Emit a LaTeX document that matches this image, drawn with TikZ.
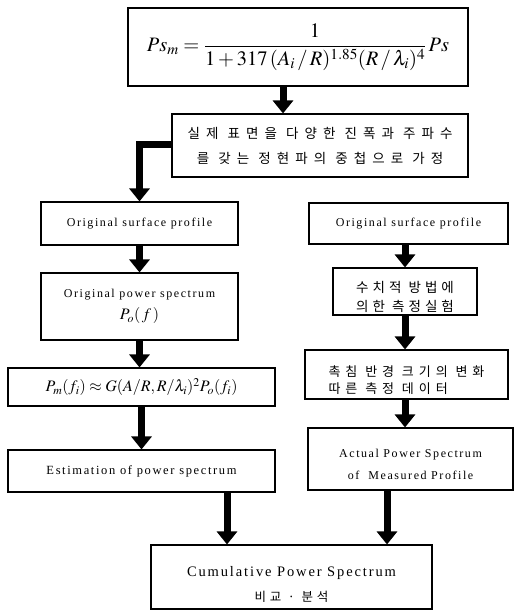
\documentclass[tikz,border=0pt]{standalone}
\usepackage{amsmath}
\usepackage{mathptmx}
\usepackage{fontspec}
\usetikzlibrary{arrows.meta}
\setmainfont{Liberation Serif}
\newfontfamily\eng{Liberation Serif}[LetterSpace=13]
\newfontfamily\korA{Noto Sans CJK KR}[LetterSpace=45]
\newfontfamily\korB{Noto Sans CJK KR}[LetterSpace=30]
\newfontfamily\korC{Noto Sans CJK KR}[LetterSpace=38]
\newcommand\liftline[1]{\rule{0pt}{#1}}
\tikzset{
  box/.style={draw, line width=1.1pt, inner sep=0pt, align=center},
  arr/.style={line width=7pt, -{Triangle[width=20pt,length=13pt]}},
  engtxt/.style={font=\eng\fontsize{12}{22}\selectfont},
}
\begin{document}
\begin{tikzpicture}[x=1pt,y=-1pt]
\useasboundingbox (0,0) rectangle (516,612);
\node[box, minimum width=340pt, minimum height=78pt] (top) at (298,47)
  {\fontsize{20.5}{24}\selectfont $Ps_m=\dfrac{1}{1+317\,(A_i\,/\,R)^{1.85}(R\,/\,\lambda_i)^4}\,Ps$};
\node[box, minimum width=296pt, minimum height=63pt, font=\korA\fontsize{13.5}{25}\selectfont] (kor) at (320,145.5)
  {실제 표면을 다양한 진폭과 주파수\\를 갖는 정현파의 중첩으로 가정};
\node[box, engtxt, minimum width=197pt, minimum height=43pt] (l1) at (139.5,223.5)
  {Original surface profile};
\node[box, engtxt, minimum width=197pt, minimum height=67pt] (l2) at (139.5,306.5)
  {Original power spectrum\\{\fontsize{16}{18}\selectfont $P_o(\,f\,)$}};
\node[box, minimum width=267pt, minimum height=38pt] (l3) at (141.5,387)
  {\fontsize{16}{19}\selectfont $P_m(f_i)\approx G(A/R,R/\lambda_i)^2P_o(f_i)$};
\node[box, font=\eng\fontsize{12.5}{15}\selectfont, minimum width=267pt, minimum height=42pt] (l4) at (141.5,471)
  {Estimation of power spectrum};
\node[box, engtxt, minimum width=199pt, minimum height=41pt] (r1) at (408.5,223.5)
  {Original surface profile};
\node[box, minimum width=144pt, minimum height=47pt, font=\korB\fontsize{13.5}{19}\selectfont] (r2) at (405,291.5)
  {\liftline{22pt}수치적 방법에\\의한 측정실험};
\node[box, minimum width=203pt, minimum height=49pt, align=left, font=\korC\fontsize{13}{17}\selectfont] (r3) at (406.5,374.5)
  {\liftline{22pt}촉침 반경 크기의 변화\\따른 측정 데이터};
\node[box, engtxt, minimum width=205pt, minimum height=62pt] (r4) at (410.5,459)
  {\liftline{19pt}Actual Power Spectrum\\of~ Measured Profile};
\node[box, minimum width=281pt, minimum height=64pt, font=\eng\fontsize{14.5}{25}\selectfont] (bot) at (291.5,577)
  {\liftline{24pt}Cumulative Power Spectrum\\{\korB\fontsize{12.5}{20}\selectfont 비교 · 분석}};
\draw[arr] ([xshift=-15pt]top.south) -- ([xshift=-15pt]top.south |- kor.north);
\draw[arr, line join=miter] ([yshift=-31pt]kor.north west) -| (l1.north);
\draw[arr] (l1.south) -- (l2.north);
\draw[arr] (l2.south) -- (l2.south |- l3.north);
\draw[arr] (l3.south) -- (l3.south |- l4.north);
\draw[arr] ([xshift=85.5pt]l4.south) -- ([xshift=85.5pt]l4.south |- bot.north);
\draw[arr] (r2.north |- r1.south) -- (r2.north);
\draw[arr] (r2.south) -- (r2.south |- r3.north);
\draw[arr] (r2.south |- r3.south) -- (r2.south |- r4.north);
\draw[arr] ([xshift=-23.5pt]r4.south) -- ([xshift=-23.5pt]r4.south |- bot.north);
\end{tikzpicture}
\end{document}
